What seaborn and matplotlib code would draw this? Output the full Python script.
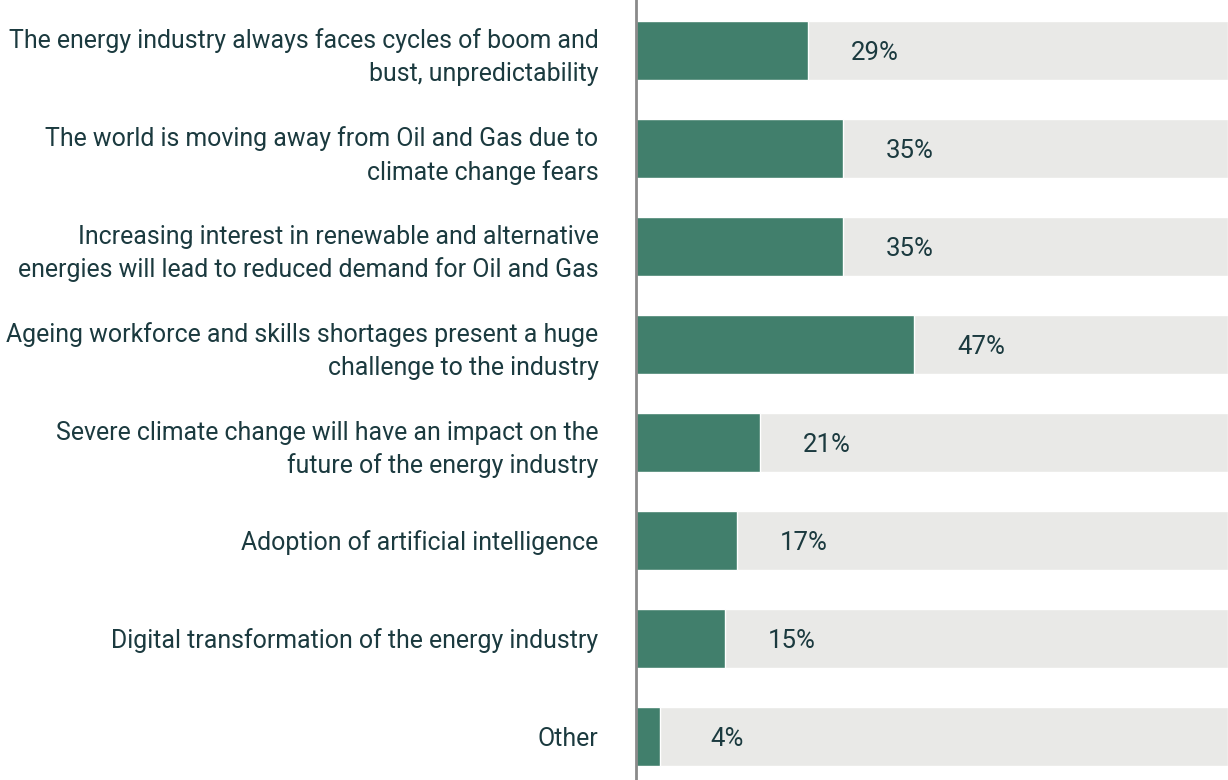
import matplotlib
matplotlib.use('Agg')
import matplotlib.pyplot as plt
import seaborn as sns
import pandas as pd

# Survey answers and share of respondents (%)
labels = [
    "The energy industry always faces cycles of boom and\nbust, unpredictability",
    "The world is moving away from Oil and Gas due to\nclimate change fears",
    "Increasing interest in renewable and alternative\nenergies will lead to reduced demand for Oil and Gas",
    "Ageing workforce and skills shortages present a huge\nchallenge to the industry",
    "Severe climate change will have an impact on the\nfuture of the energy industry",
    "Adoption of artificial intelligence",
    "Digital transformation of the energy industry",
    "Other",
]
values = [29, 35, 35, 47, 21, 17, 15, 4]
full = [100] * len(values)

green = '#417f6c'
grey = '#e9e9e7'
text_col = '#1b3a3f'

sns.set_theme(style='white')
plt.rcParams['font.family'] = ['Roboto', 'DejaVu Sans']

df = pd.DataFrame({'label': labels, 'value': values, 'full': full})

fig = plt.figure(figsize=(12.28, 7.80), dpi=100)
ax = fig.add_axes([636 / 1228, 0, 1 - 636 / 1228, 1])

# grey track to 100%, green bar on top
sns.barplot(data=df, y='label', x='full', color=grey, width=0.6, orient='h', ax=ax,
            saturation=1)
sns.barplot(data=df, y='label', x='value', color=green, width=0.6, orient='h', ax=ax,
            saturation=1)

for i, v in enumerate(values):
    ax.text(v + 11.3, i + 0.03, f'{v}%', ha='center', va='center',
            fontsize=18.5, color=text_col)

ax.set_xlim(0, 100)
ax.set_ylim(7.444, -0.515)
ax.set_xlabel('')
ax.set_ylabel('')
ax.set_xticks([])
for s in ['top', 'right', 'bottom']:
    ax.spines[s].set_visible(False)
ax.spines['left'].set_color('#8a8a8a')
ax.spines['left'].set_linewidth(2)
ax.tick_params(axis='y', length=0, pad=27)
for t in ax.get_yticklabels():
    t.set_fontsize(17.9)
    t.set_color(text_col)
    t.set_linespacing(1.45)

fig.savefig('out.png', dpi=100)
